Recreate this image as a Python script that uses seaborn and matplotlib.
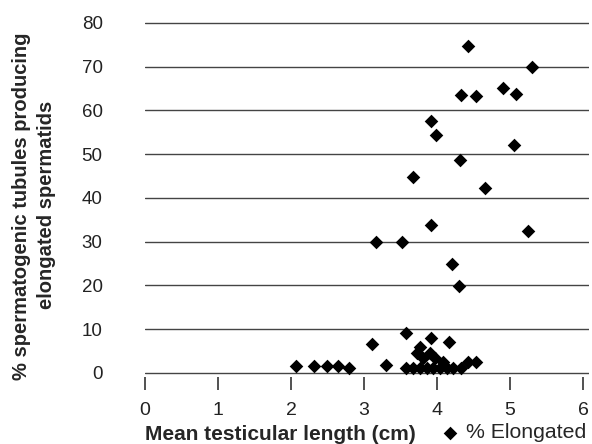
import matplotlib
matplotlib.use("Agg")
import matplotlib.pyplot as plt
import seaborn as sns
import pandas as pd

# valeurs
length_cm = [2.07, 2.32, 2.49, 2.64, 2.79, 3.30, 3.11,
             3.57, 3.92, 4.17, 3.76, 3.72, 3.90, 3.81, 3.97, 4.08,
             3.58, 3.67, 3.77, 3.86, 3.95, 4.04, 4.13, 4.22, 4.33, 4.42, 4.54,
             3.17, 3.52, 3.92, 5.24, 4.21, 4.30,
             3.67, 4.66, 4.31, 5.06, 3.98, 3.92,
             4.33, 4.53, 4.90, 5.08, 4.42, 5.30]
pct_elongated = [1.5, 1.5, 1.5, 1.5, 1.0, 1.8, 6.5,
                 9.2, 8.0, 7.0, 6.0, 4.5, 4.5, 3.3, 3.3, 2.5,
                 1.2, 1.2, 1.2, 1.2, 1.2, 1.2, 1.2, 1.2, 1.2, 2.5, 2.5,
                 29.8, 29.8, 33.8, 32.5, 24.9, 19.9,
                 44.8, 42.2, 48.6, 52.0, 54.3, 57.6,
                 63.4, 63.2, 65.1, 63.7, 74.7, 70.0]
x_ticks = [0, 1, 2, 3, 4, 5, 6]
y_ticks = [0, 10, 20, 30, 40, 50, 60, 70, 80]

df = pd.DataFrame({"length": length_cm, "pct": pct_elongated})

sns.set_style("white")
plt.rcParams["font.family"] = ["Liberation Sans", "DejaVu Sans"]

fig = plt.figure(figsize=(5.92, 4.44), dpi=100)
ax = fig.add_axes([0.245, 0.1516, 0.7497, 0.800])

# lignes horizontales
for v in y_ticks:
    ax.axhline(v, color="#444444", lw=1.0, zorder=1)

sns.scatterplot(data=df, x="length", y="pct", marker="D", color="black",
                s=48, linewidth=0, label="% Elongated", ax=ax, zorder=3)

ax.set_xlim(0, 6.08)
ax.set_ylim(-0.9, 80.3)
ax.set_xticks(x_ticks)
ax.set_yticks(y_ticks)
for s in ax.spines.values():
    s.set_visible(False)
ax.tick_params(axis="x", bottom=True, direction="out", length=9, width=1.2,
               color="#333333", labelsize=14, labelcolor="#222222", pad=9)
ax.tick_params(axis="y", left=False, labelsize=13.5, labelcolor="#222222", pad=27)

ax.set_xlabel("")
ax.set_ylabel("")
fig.text(0.245, 0.009, "Mean testicular length (cm)", fontsize=15, fontweight="bold",
         ha="left", va="baseline")
fig.text(0.037, 0.536, "% spermatogenic tubules producing", fontsize=14.5,
         fontweight="bold", rotation=90, ha="center", va="center")
fig.text(0.079, 0.538, "elongated spermatids", fontsize=14.5,
         fontweight="bold", rotation=90, ha="center", va="center")

ax.legend(loc="center left", bbox_to_anchor=(0.743, 0.025), bbox_transform=fig.transFigure,
          frameon=False, fontsize=15.3, handletextpad=0.25, borderaxespad=0,
          handlelength=1.0, borderpad=0)

fig.savefig("out.png", dpi=100)
